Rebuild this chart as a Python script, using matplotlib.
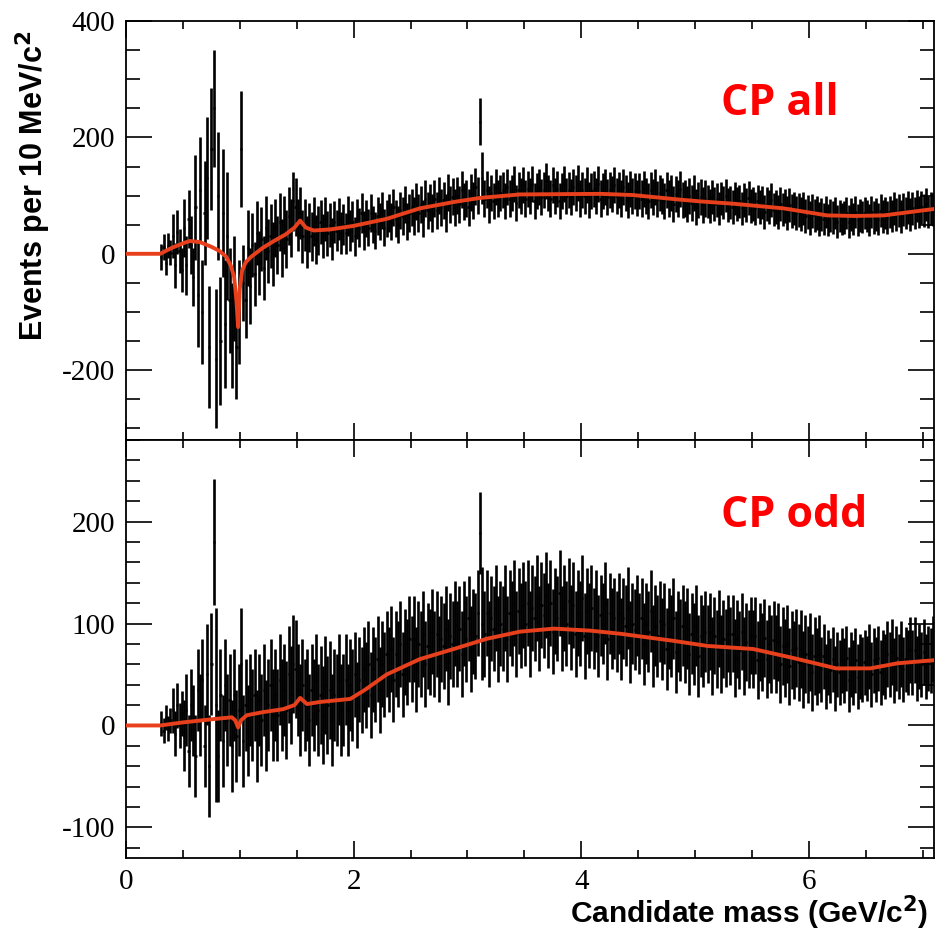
import numpy as np
import matplotlib
matplotlib.use("Agg")
import matplotlib.pyplot as plt
from matplotlib.ticker import MultipleLocator

plt.rcParams['axes.unicode_minus'] = False

# histogram binning (GeV)
x_lo, bw, n_bins = 0.30, 0.02, 340

# ---- CP all (top) : bin contents, 10 bins per row
top_vals = [
    -5, 12, -15, 14, 2, 30, -20, 38, 5, -28,
    45, -20, 60, 15, -40, 80, -70, 110, -100, 70,
    130, -160, 180, 250, -180, 100, -150, 70, -120, 30,
    -80, -140, -60, -160, -100, 180, -50, -80, 10, -55,
    15, -35, 35, -15, 25, -25, 45, 5, 30, 0,
    45, 15, 55, 10, 50, 25, 65, 45, 90, 80,
    50, 70, 30, 50, 20, 45, 30, 55, 25, 40,
    55, 30, 60, 35, 50, 25, 55, 40, 60, 35,
    50, 35, 65, 40, 55, 30, 60, 45, 70, 40,
    60, 45, 70, 50, 40, 65, 55, 75, 45, 60,
    70, 55, 80, 60, 50, 75, 65, 85, 55, 70,
    80, 65, 90, 70, 85, 60, 95, 75, 88, 70,
    95, 75, 100, 80, 92, 70, 105, 85, 98, 80,
    100, 85, 110, 90, 95, 80, 105, 92, 115, 100,
    227, 130, 95, 110, 85, 105, 90, 115, 95, 105,
    110, 90, 115, 95, 105, 120, 88, 110, 100, 118,
    95, 112, 100, 120, 90, 108, 115, 98, 110, 125,
    105, 95, 118, 100, 112, 90, 108, 120, 100, 110,
    98, 115, 105, 122, 95, 110, 100, 118, 92, 108,
    112, 100, 120, 95, 108, 115, 98, 110, 103, 118,
    100, 110, 95, 115, 105, 92, 112, 100, 108, 96,
    108, 95, 112, 100, 90, 110, 98, 115, 94, 104,
    100, 90, 110, 95, 105, 85, 102, 95, 112, 92,
    95, 85, 100, 88, 105, 80, 92, 98, 84, 95,
    90, 82, 98, 86, 92, 78, 95, 88, 100, 84,
    88, 80, 95, 85, 90, 78, 92, 84, 96, 82,
    85, 78, 90, 80, 88, 72, 86, 80, 92, 76,
    80, 72, 85, 76, 82, 70, 84, 74, 78, 70,
    75, 68, 78, 65, 72, 62, 74, 66, 70, 60,
    68, 60, 72, 58, 66, 62, 70, 55, 65, 60,
    62, 70, 55, 68, 60, 72, 58, 66, 63, 70,
    65, 58, 72, 62, 68, 60, 74, 64, 70, 62,
    72, 65, 78, 68, 74, 64, 76, 70, 80, 68,
    78, 70, 82, 72, 80, 74, 85, 72, 78, 76,
]
# error size per 100 MeV slice (0.3 .. 7.0)
top_err_slice = ([22, 38, 50, 90, 105, 110, 90, 65, 55, 55, 50, 50, 45, 42, 38, 36, 35, 34]
                 + [32] * 10 + [32] + [31] * 9 + [31] * 10 + [29] * 10 + [28] * 10)
top_err_fix_x = [0.77, 0.79, 1.01, 3.11, 3.13]
top_err_fix = [100, 120, 100, 40, 45]

top_fit_x = [0.0, 0.30, 0.40, 0.50, 0.56, 0.65, 0.75, 0.82, 0.88, 0.92, 0.95, 0.97, 0.985,
             1.00, 1.02, 1.05, 1.10, 1.20, 1.30, 1.40, 1.48, 1.53, 1.58, 1.65, 1.80, 2.00,
             2.29, 2.58, 2.88, 3.11, 3.46, 4.17, 4.45, 4.87, 5.05, 5.34, 5.78, 6.16, 6.40,
             6.66, 6.90, 7.10]
top_fit_y = [0, 0, 10, 18, 22, 20, 12, 5, -5, -20, -40, -80, -126,
             -60, -29, -15, -5, 10, 22, 33, 45, 57, 45, 40, 42, 48,
             60, 78, 89, 96, 102, 103, 101, 93, 90, 86, 78, 66, 65,
             66, 72, 77]

# ---- CP odd (bottom)
bot_vals = [
    2, -5, 8, -3, 5, 15, -8, 20, 0, 12,
    -10, 15, -25, 20, 5, -30, 35, 10, 45, -20,
    50, -40, 60, 180, 20, -30, 30, -15, 40, 5,
    25, -20, 30, -10, 15, 60, -15, 20, -5, 25,
    10, 30, -10, 25, 5, 35, 0, 20, 40, 10,
    30, 10, 45, 20, 35, 15, 50, 30, 60, 55,
    35, 15, 40, 20, 30, 5, 35, 20, 45, 15,
    30, 10, 40, 20, 35, 5, 30, 25, 45, 15,
    25, 45, 15, 40, 30, 50, 20, 45, 35, 55,
    40, 60, 30, 55, 45, 65, 35, 60, 50, 70,
    55, 75, 45, 70, 60, 80, 50, 72, 62, 85,
    65, 85, 55, 80, 70, 90, 60, 78, 72, 92,
    70, 90, 65, 85, 78, 95, 62, 88, 80, 100,
    80, 95, 70, 100, 85, 105, 75, 92, 88, 110,
    189, 100, 90, 110, 80, 105, 95, 115, 85, 100,
    95, 115, 85, 110, 100, 120, 90, 112, 98, 118,
    100, 120, 90, 115, 105, 125, 95, 118, 108, 128,
    98, 120, 92, 112, 105, 130, 95, 115, 100, 122,
    96, 118, 90, 110, 100, 125, 88, 112, 98, 115,
    95, 112, 88, 108, 100, 120, 85, 110, 95, 105,
    92, 110, 85, 105, 98, 115, 82, 100, 94, 108,
    90, 105, 80, 100, 92, 112, 78, 98, 88, 102,
    85, 100, 75, 95, 88, 105, 72, 92, 84, 98,
    82, 95, 70, 90, 80, 98, 68, 88, 78, 92,
    80, 92, 68, 88, 75, 95, 70, 85, 76, 90,
    78, 90, 66, 85, 74, 92, 68, 82, 75, 88,
    75, 88, 64, 82, 72, 86, 65, 80, 70, 84,
    70, 82, 60, 78, 66, 80, 58, 74, 64, 76,
    62, 75, 55, 70, 60, 72, 52, 68, 58, 70,
    55, 68, 48, 62, 54, 65, 46, 60, 52, 64,
    54, 66, 45, 60, 52, 64, 48, 58, 55, 62,
    56, 68, 50, 64, 55, 66, 52, 62, 58, 70,
    60, 72, 54, 66, 58, 70, 55, 65, 62, 74,
    62, 74, 56, 68, 60, 72, 58, 66, 64, 75,
]
bot_err_slice = ([12, 22, 35, 40, 50, 45, 45, 45, 45, 45, 45, 48, 45, 45, 48, 45, 45, 42]
                 + [42] * 10 + [42] + [42] * 9 + [40] * 10 + [38] * 10 + [32] * 10)
bot_err_fix_x = [0.77, 0.79, 1.01, 3.11, 3.13]
bot_err_fix = [62, 95, 55, 40, 55]

bot_fit_x = [0.0, 0.30, 0.50, 0.79, 0.93, 0.96, 0.985, 1.01, 1.06, 1.20, 1.38, 1.48, 1.53,
             1.59, 1.70, 1.97, 2.10, 2.29, 2.58, 2.88, 3.17, 3.46, 3.76, 4.08, 4.34, 4.81,
             5.11, 5.51, 5.87, 6.24, 6.54, 6.78, 7.10]
bot_fit_y = [0, 0, 3, 6.5, 8, 5, -2, 5, 10, 13, 16, 20, 27,
             21, 23, 26, 35, 50, 65, 75, 85, 92, 95, 93, 90, 83,
             78, 75, 66, 56, 56, 61, 64]

xc = x_lo + bw * (np.arange(n_bins) + 0.5)


def bin_errors(err_slice, fix_x, fix_val):
    e = np.array([err_slice[i // 5] for i in range(n_bins)], dtype=float)
    for fx, fv in zip(fix_x, fix_val):
        e[int(round((fx - x_lo) / bw - 0.5))] = fv
    return e


fig = plt.figure(figsize=(9.37, 9.31), dpi=100)
ax1 = fig.add_axes([0.1345, 0.5274, 0.8623, 0.4500])
ax2 = fig.add_axes([0.1345, 0.0784, 0.8623, 0.4490])

red_fit = '#e8401c'
panels = [
    (ax1, top_vals, bin_errors(top_err_slice, top_err_fix_x, top_err_fix), top_fit_x, top_fit_y,
     (-320, 400), 200, 50, "CP all", 0.804),
    (ax2, bot_vals, bin_errors(bot_err_slice, bot_err_fix_x, bot_err_fix), bot_fit_x, bot_fit_y,
     (-130, 280), 100, 20, "CP odd", 0.819),
]

for ax, vals, errs, fx, fy, ylim, ymaj, ymin, tag, ty in panels:
    ax.errorbar(xc, vals, yerr=errs, xerr=bw / 2, fmt='none', ecolor='black',
                elinewidth=1.9, capsize=0, zorder=2)
    ax.plot(fx, fy, color=red_fit, lw=2.8, zorder=3)
    ax.set_xlim(0, 7.1)
    ax.set_ylim(*ylim)
    ax.xaxis.set_major_locator(MultipleLocator(2))
    ax.xaxis.set_minor_locator(MultipleLocator(0.5))
    ax.yaxis.set_major_locator(MultipleLocator(ymaj))
    ax.yaxis.set_minor_locator(MultipleLocator(ymin))
    ax.tick_params(which='both', direction='in', top=True, right=True, width=1.2)
    ax.tick_params(axis='y', which='major', length=19)
    ax.tick_params(axis='y', which='minor', length=10)
    ax.tick_params(axis='x', which='major', length=12)
    ax.tick_params(axis='x', which='minor', length=6)
    ax.tick_params(axis='both', labelsize=21, pad=8)
    for lab in ax.get_xticklabels() + ax.get_yticklabels():
        lab.set_fontfamily('Liberation Serif')
    for sp in ax.spines.values():
        sp.set_linewidth(1.3)
    ax.text(0.736, ty, tag, transform=ax.transAxes, color='#ff0000',
            fontsize=31, fontweight='bold', family='Open Sans', va='center', ha='left')

ax1.tick_params(axis='x', labelbottom=False)

fig.text(0.035, 0.800, "Events per 10 MeV/c$^{\\mathbf{2}}$", rotation=90, ha='center', va='center',
         fontsize=22, fontweight='bold', family=['Liberation Sans Narrow', 'Liberation Sans'])
fig.text(0.991, 0.020, "Candidate mass (GeV/c$^{\\mathbf{2}}$)", ha='right', va='center',
         fontsize=21.5, fontweight='bold', family='Liberation Sans')

fig.savefig("out.png", dpi=100)
